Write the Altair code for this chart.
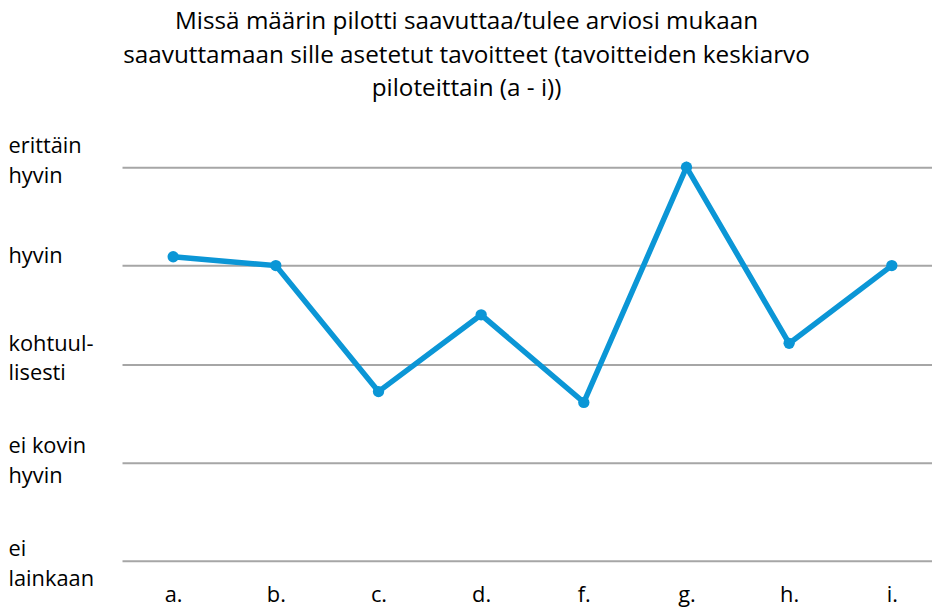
import altair as alt
import pandas as pd

categories = ["a.", "b.", "c.", "d.", "f.", "g.", "h.", "i."]
values = [4.09, 4.0, 2.72, 3.5, 2.61, 5.0, 3.21, 4.0]
tick_values = [1, 2, 3, 4, 5]
tick_labels = [["ei", "lainkaan"], ["ei kovin", "hyvin"], ["kohtuul-", "lisesti"], ["hyvin"], ["erittäin", "hyvin"]]
label_shift = [-12, -17, -21, -10, -22]
title_lines = [
    "Missä määrin pilotti saavuttaa/tulee arviosi mukaan",
    "saavuttamaan sille asetetut tavoitteet (tavoitteiden keskiarvo",
    "piloteittain (a - i))",
]

df = pd.DataFrame({"pilotti": categories, "arvo": values})

expr = ""
for v, lab in zip(tick_values, tick_labels):
    expr += f"datum.value == {v} ? {lab!r} : "
expr += "''"

offset_cond = {
    "condition": [{"test": f"datum.value == {v}", "value": s} for v, s in zip(tick_values, label_shift)],
    "value": -15,
}

FONT = "Open Sans"
BLUE = "#0b96d6"

x = alt.X("pilotti:N", sort=categories,
          scale=alt.Scale(type="point", padding=0.445, align=0.56),
          axis=alt.Axis(title=None, labelAngle=0, domain=False, ticks=False, tickSize=0,
                        labelPadding=24, labelFontSize=22, labelFont=FONT, labelColor="#000000",
                        grid=False))
y = alt.Y("arvo:Q", scale=alt.Scale(domain=[1, 5], nice=False, zero=False),
          axis=alt.Axis(title=None, values=tick_values, labelExpr=expr, domain=False,
                        ticks=False, tickSize=0, labelAlign="left", labelBaseline="middle",
                        labelPadding=115, labelOffset=offset_cond, labelLineHeight=30,
                        labelFontSize=22, labelFont=FONT, labelColor="#000000",
                        gridColor="#a6a6a6", gridWidth=2, gridOpacity=1))

base = alt.Chart(df).encode(x=x, y=y)
line = base.mark_line(color=BLUE, strokeWidth=5.5)
pts = base.mark_point(color=BLUE, filled=True, size=130, opacity=1)

chart = (line + pts).properties(
    width=817, height=397,
    autosize=alt.AutoSizeParams(type="none"),
    padding={"left": 115, "top": 158, "right": 0, "bottom": 45},
    title=alt.TitleParams(text=title_lines, anchor="middle", fontSize=24.5, font=FONT,
                          fontWeight="normal", color="#000000", lineHeight=34,
                          offset=33, dx=-61),
).configure_view(stroke=None)

chart.save("out.html", embed_options={"renderer": "svg", "actions": False})
